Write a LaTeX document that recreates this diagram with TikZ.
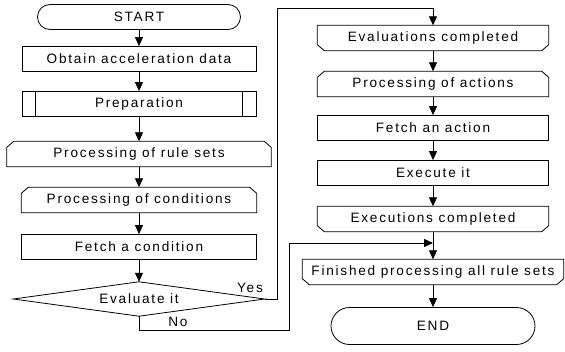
\documentclass[tikz,border=0pt]{standalone}
\usepackage{fontspec}
\setmainfont{Liberation Sans}[LetterSpace=13]
\usetikzlibrary{arrows.meta}

% loop limit with cut top corners (start of a loop)
\newcommand\flowLoopStart[1]{%
  \draw[edge] ([yshift=-6pt]#1.north west) -- ([xshift=7pt]#1.north west)
    -- ([xshift=-7pt]#1.north east) -- ([yshift=-6pt]#1.north east)
    -- (#1.south east) -- (#1.south west) -- cycle;}
% loop limit with cut bottom corners (end of a loop)
\newcommand\flowLoopEnd[1]{%
  \draw[edge] (#1.north west) -- (#1.north east)
    -- ([yshift=6pt]#1.south east) -- ([xshift=-7pt]#1.south east)
    -- ([xshift=7pt]#1.south west) -- ([yshift=6pt]#1.south west) -- cycle;}

\begin{document}
\begin{tikzpicture}[x=1pt,y=-1pt,
  every node/.style={font=\fontsize{13.6}{16}\selectfont, inner sep=0pt},
  edge/.style={line width=0.8pt},
  box/.style={minimum height=25pt},
  plain/.style={box, draw, edge},
  terminal/.style={draw, edge, rounded corners=12.5pt, minimum height=25pt},
  flow/.style={edge, -{Triangle[length=9pt,width=8pt]}},
]
\useasboundingbox (0,0) rectangle (565,351);

% left column
\node[terminal, minimum width=203pt] (start) at (139,17) {START};
\node[plain, minimum width=234pt] (obtain) at (139,59) {Obtain acceleration data};
\node[plain, minimum width=234pt] (prep) at (139,104) {Preparation};
\draw[edge] ([xshift=14pt]prep.north west) -- ([xshift=14pt]prep.south west);
\draw[edge] ([xshift=-14pt]prep.north east) -- ([xshift=-14pt]prep.south east);
\node[box, minimum width=264pt] (rules) at (139,154) {Processing of rule sets};
\flowLoopStart{rules}
\node[box, minimum width=235pt] (conds) at (139,200) {Processing of conditions};
\flowLoopStart{conds}
\node[plain, minimum width=235pt] (fetchc) at (139,247) {Fetch a condition};
\node[minimum width=251pt, minimum height=34pt] (dec) at (139,299) {Evaluate it};
\draw[edge] (dec.north) -- (dec.east) -- (dec.south) -- (dec.west) -- cycle;
\node (yes) at (250,288) {Yes};
\node (no) at (178,322) {No};

% right column
\node[box, minimum width=231pt] (evdone) at (433,38) {Evaluations completed};
\flowLoopEnd{evdone}
\node[box, minimum width=231pt] (acts) at (433,84) {Processing of actions};
\flowLoopStart{acts}
\node[plain, minimum width=231pt] (fetcha) at (433,128) {Fetch an action};
\node[plain, minimum width=231pt] (exec) at (433,173) {Execute it};
\node[box, minimum width=231pt] (exdone) at (433,219) {Executions completed};
\flowLoopEnd{exdone}
\node[box, minimum width=261pt] (fin) at (433,272) {Finished processing all rule sets};
\flowLoopEnd{fin}
\node[draw, edge, rounded corners=18.5pt, minimum width=204pt, minimum height=37pt] (finish) at (433,326) {END};

% connectors
\draw[flow] (start) -- (obtain);
\draw[flow] (obtain) -- (prep);
\draw[flow] (prep) -- (rules);
\draw[flow] (rules) -- (conds);
\draw[flow] (conds) -- (fetchc);
\draw[flow] (fetchc) -- (dec.north);

\coordinate (yesturn) at (277,8);
\draw[flow] (dec.east) -| (yesturn) -| (evdone.north);
\coordinate (noturn) at (289,330);
\coordinate (merge) at (433,243);
\draw[flow] (dec.south) |- (noturn) |- (merge);

\draw[flow] (evdone) -- (acts);
\draw[flow] (acts) -- (fetcha);
\draw[flow] (fetcha) -- (exec);
\draw[flow] (exec) -- (exdone);
\draw[flow] (exdone) -- (fin);
\draw[flow] (fin) -- (finish);
\end{tikzpicture}
\end{document}
